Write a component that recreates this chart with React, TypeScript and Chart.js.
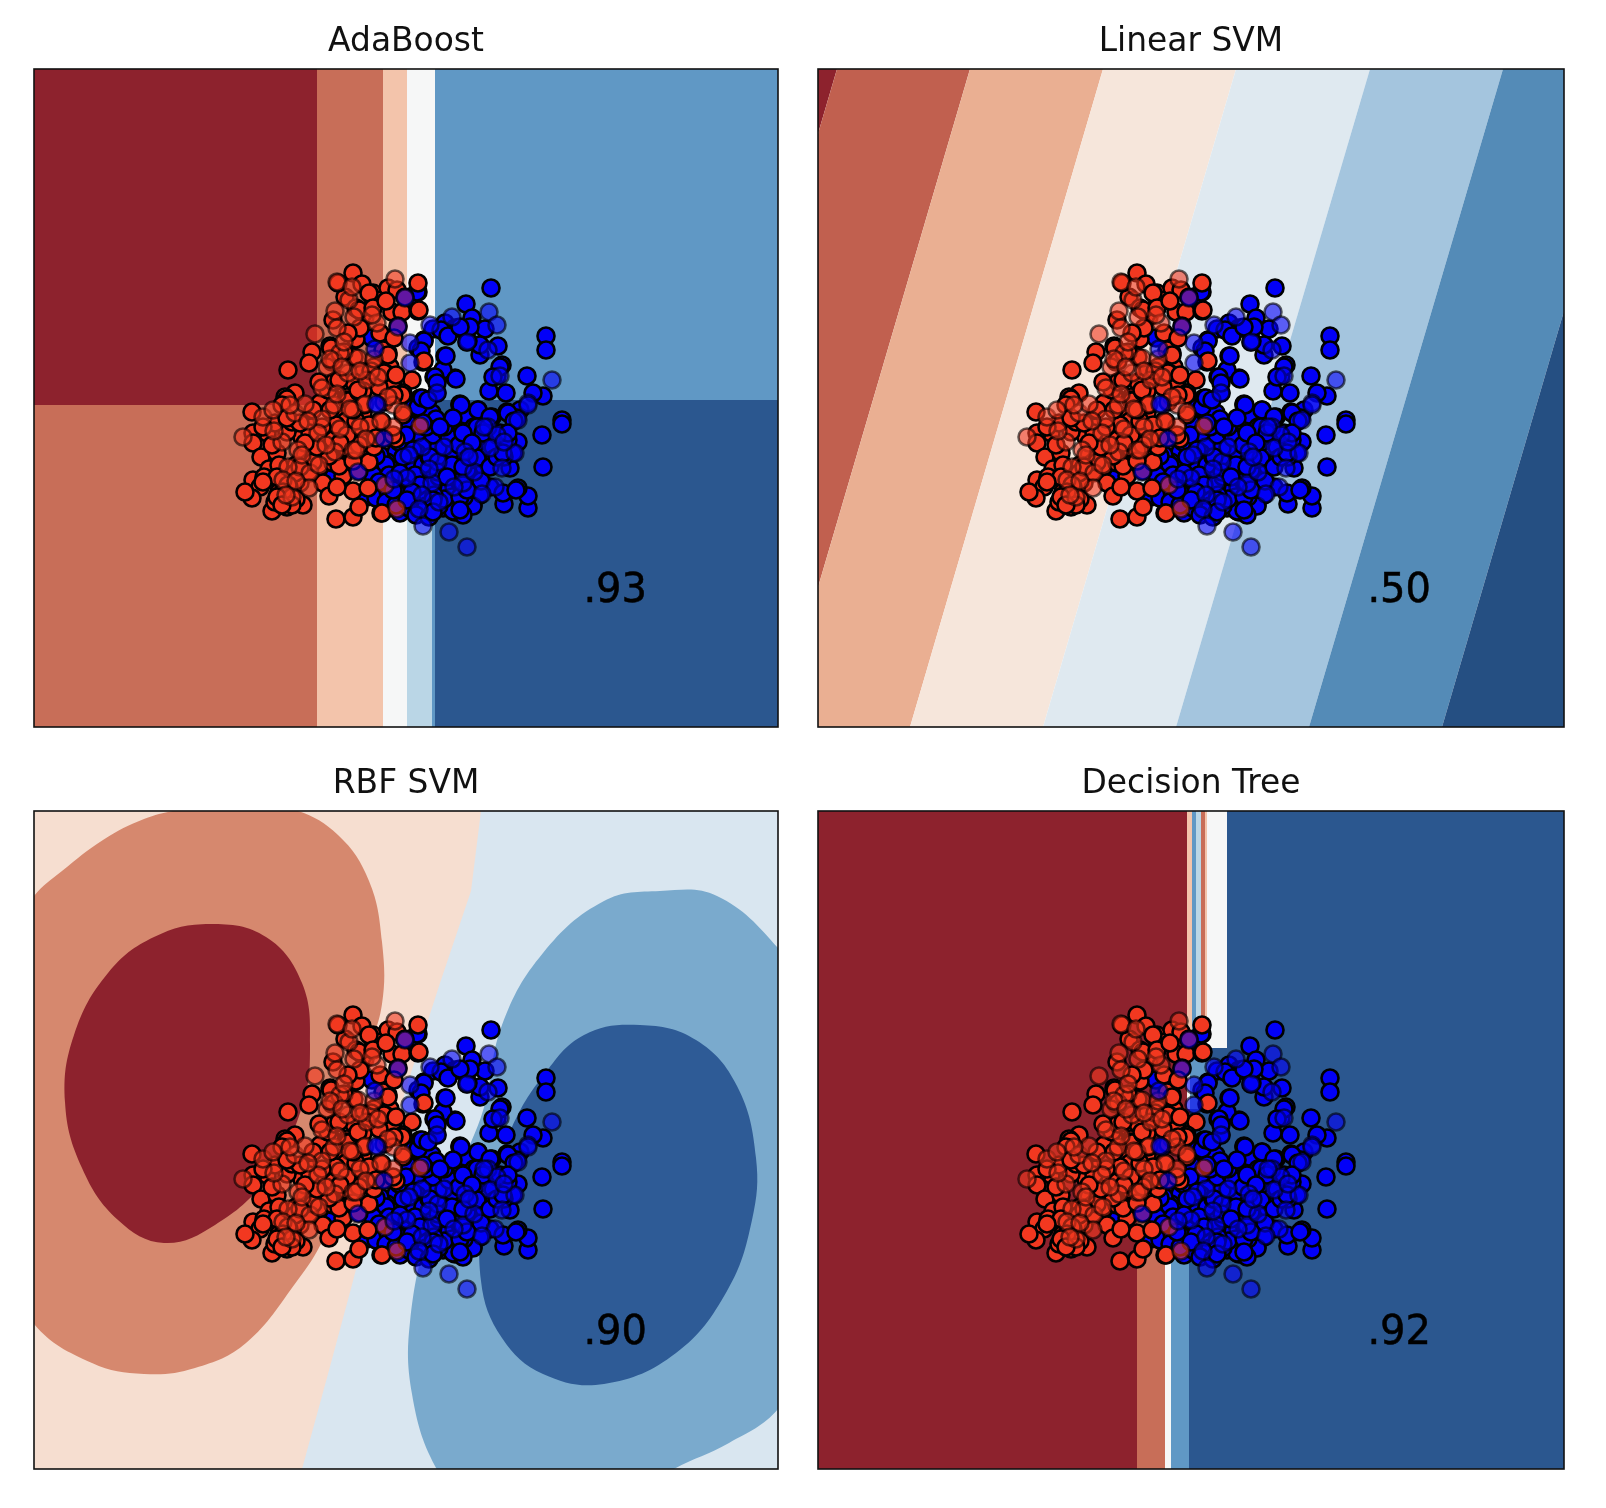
import React, { useEffect, useRef } from "react";
import { Chart, registerables } from "chart.js";

Chart.register(...registerables);

type Pair = number[];

const titles = ["AdaBoost", "Linear SVM", "RBF SVM", "Decision Tree"];
const scores = [".93", ".50", ".90", ".92"];

const blueTrain: Pair[] = [
  [457,439],[432,423],[438,409],[451,398],[464,381],[468,362],[446,372],[433,385],[411,371],[421,349],[400,350],[512,391],[512,377],[493,351],[455,336],[472,334],[509,331],[426,323],[444,317],[398,314],[386,329],[379,319],[384,435],[390,387],[384,379],[399,398],[411,404],[421,399],[413,392],[409,357],[403,334],[446,382],[473,315],[486,317],[499,334],[528,307],[458,310],[431,312],[483,309],[463,351],
  [528,303],[508,292],[509,260],[494,219],[494,231],[484,239],[470,223],[476,259],[449,260],[446,247],[439,222],[421,215],[419,245],[414,290],[426,322],[444,317],[473,287],[484,285],[434,295],[362,275],[376,304],[389,282],[406,265],[398,244],[373,249],[388,232],[366,232],[393,220],[411,237],[418,230],[433,257],[459,280],[479,274],[456,240],[446,232],[469,234],[429,274],[418,277],[404,279],[399,292],[363,260],[379,224],[353,265],[386,264],[374,264],[356,247],[393,255],[466,294],[456,310],[443,284],[409,219],[413,294],[423,250],[436,267],
  [336,269],[349,265],[376,302],[384,320],[378,254],[359,257],[329,259],[343,230],[356,235],[368,230],[376,222],[366,214],[296,249],[383,274],[383,294],[373,265],[346,272],[333,230],[383,240],[338,389],[374,425],[383,435],
  [434,386],[407,397],[424,399],[414,391],[390,386],[387,376],[412,371],[422,348],[401,350],[427,322],[388,329],[415,289],[435,295],[474,287],[474,314],[480,306],[450,260],[389,262],[352,262],[342,271],[339,252],[399,242],[429,242],[447,246],[439,221],[482,237],[429,212],[419,216],[369,231],[375,219],[392,221],[405,221],[342,229],[354,236],[405,250],[415,258],[395,270],[365,285],[372,292],[410,300],[425,282],[440,300],[402,308],[392,300],[355,252],[410,228],[400,232],[430,230],[385,248],[345,245],[352,225],[460,268],[470,270],[382,212],[395,210],[362,222],
  [379,277],[369,270],[396,270],[381,252],[366,254],[386,242],[404,255],[418,262],[429,260],[443,269],[456,260],[443,300],[429,294],[419,309],[389,304],[406,300],[378,235],[399,227],[426,230],[433,237],[463,270],[469,274],[474,294],[449,294],[438,284],[413,250],[373,227],[359,237],[399,215],[426,217],[403,344],[394,327],[466,360],[459,350],[436,400],[426,400]
];

const redTrain: Pair[] = [
  [319,454],[328,443],[339,434],[354,439],[358,415],[322,388],[254,357],[278,375],[275,364],[356,360],[378,347],[368,333],[311,430],[322,419],[338,420],[331,410],[326,399],[299,407],[296,381],[314,394],[354,374],[359,390],[368,415],[346,394],[349,377],[304,347],[313,330],[329,355],[351,354],[359,344],[333,344],[296,332],[261,334],[251,330],[363,437],[343,427],[384,444],[384,416],[389,365],[369,334],[304,444],[385,417],
  [218,315],[233,294],[219,294],[219,284],[227,270],[235,258],[219,247],[226,240],[218,229],[211,235],[238,216],[241,225],[269,222],[253,220],[253,328],[268,290],[243,274],[253,295],[241,304],[248,322],[286,324],[304,310],[313,304],[313,327],[296,287],[286,260],[266,244],[289,244],[295,231],[309,251],[319,236],[334,239],[302,208],[319,210],[325,220],[347,214],[329,314],[339,297],[346,306],[368,332],[326,287],[312,277],[326,279],[299,264],[271,272],[303,240],
  [305,309],[314,326],[294,337],[348,305],[348,214],[362,288],[390,366],[371,430],[364,401],[325,256],[350,289],[280,270],[262,262],[245,262],[230,250],[258,305],[278,300],[290,275],[320,300],[335,265],[340,280],[310,290],[300,345],[285,345],[340,360],[320,370],[310,375],[298,365],[345,340],[350,325],[325,335],[320,345],[310,312],[285,290],[275,255],[255,240],[245,235],[262,228],
  [335,434],[325,417],[339,419],[352,426],[360,389],[354,372],[350,354],[362,352],[329,336],[297,379],[300,366],[305,347],[324,337],[337,356],[330,322],[312,306],[322,306],[335,302],[299,287],[312,279],[325,282],[342,289],[359,292],[369,312],[360,332],[305,261],[295,271],[319,266],[302,302],
  [261,254],[243,250],[254,242],[249,235],[258,222],[279,265],[266,260],[283,280],[276,294],[288,300],[266,304],[253,309],[229,300],[279,317],[296,317],[319,317],[313,292],[306,284],[271,284],[238,282],[229,245],[243,230],[248,222]
];

const redTest: Pair[] = [
  [303,445],[361,448],[315,427],[301,416],[303,399],[281,393],[343,404],[306,374],[324,369],[293,360],[288,339],[314,354],[333,347],
  [209,290],[229,310],[239,317],[261,314],[271,323],[300,322],[331,323],[288,308],[284,294],[326,300],[248,285],[264,277],[301,275],[319,277],[254,260],[249,247],[276,254],[275,239],[258,230],[359,322],[369,315],[359,300],[351,242],[363,218],[386,301],[322,277],[347,306],
  [320,410],[310,385],[296,368],[326,356],[340,368],[303,333],[316,318],[306,298],[292,282],[274,306],[256,322],[240,296],[262,246],[285,262],[332,288],[354,330],[338,412],[318,440],[308,360],[344,350],[268,272],[252,232]
];

const blueTest: Pair[] = [
  [455,415],[463,402],[418,410],[396,402],[433,385],[454,377],[466,351],[518,347],[376,364],[376,384],[403,334],[494,324],[389,201],[415,195],[433,180],[484,307],[494,322],[454,300],[463,292],[431,275],[404,265],[388,280],[429,244],[461,240],[448,233],[468,259],[481,274],[456,279],[398,244],[373,249],[388,232],[341,378],[344,322],
  [371,429],[364,400],[324,255],[350,288],[342,323],
  [410,280],[395,258],[375,272],[420,240],[440,255],[405,225],[385,218],[450,300],[470,285],[360,248],[435,270]
];

const shades: Record<string, string> = {
  darkRed: "rgb(141,34,45)",
  red: "rgb(200,110,88)",
  peach: "rgb(243,196,171)",
  white: "rgb(246,247,247)",
  paleBlue: "rgb(186,214,230)",
  blue: "rgb(96,152,197)",
  darkBlue: "rgb(43,87,143)",
  lin1: "rgb(193,96,79)",
  lin2: "rgb(234,175,146)",
  lin3: "rgb(246,230,219)",
  lin4: "rgb(223,233,240)",
  lin5: "rgb(164,197,222)",
  lin6: "rgb(84,139,183)",
  lin7: "rgb(37,79,130)",
  rbfPeach: "rgb(246,222,208)",
  rbfRed: "rgb(214,136,110)",
  rbfPale: "rgb(217,230,240)",
  rbfBlue: "rgb(122,170,205)",
  rbfDark: "rgb(46,91,150)",
};

type Region = { shade: string; pts: Pair[]; curved?: boolean };
const box = (shade: string, x0: number, x1: number, y0: number, y1: number): Region => ({
  shade,
  pts: [[x0, y0], [x1, y0], [x1, y1], [x0, y1], [x0, y0]],
});

const adaRegions: Region[] = [
  box("darkRed", 0, 283, 322, 658),
  box("red", 283, 349, 322, 658),
  box("peach", 349, 373, 322, 658),
  box("white", 373, 401, 322, 658),
  box("blue", 401, 744, 327, 658),
  box("red", 0, 283, 0, 322),
  box("peach", 283, 349, 0, 322),
  box("white", 349, 373, 0, 322),
  box("paleBlue", 373, 398, 0, 322),
  box("blue", 398, 401, 0, 327),
  box("darkBlue", 401, 744, 0, 327),
];

const slant = (shade: string, t0: number, t1: number, b0: number, b1: number): Region => ({
  shade,
  pts: [[t0, 658], [t1, 658], [b1, 0], [b0, 0], [t0, 658]],
});

const linearRegions: Region[] = [
  slant("darkRed", -200, 19, -393, -174),
  slant("lin1", 19, 152, -174, -41),
  slant("lin2", 152, 285, -41, 92),
  slant("lin3", 285, 418, 92, 225),
  slant("lin4", 418, 552, 225, 358),
  slant("lin5", 552, 685, 358, 491),
  slant("lin6", 685, 817, 491, 624),
  slant("lin7", 817, 1100, 624, 907),
];

const rbfRegions: Region[] = [
  box("rbfPeach", 0, 744, 0, 658),
  { shade: "rbfPale", pts: [[447,658],[437,578],[406,486],[376,393],[345,290],[319,188],[294,95],[268,0],[744,0],[744,658],[447,658]] },
  { shade: "rbfRed", curved: true, pts: [[-54,496],[0,573],[28,598],[69,629],[110,650],[150,660],[202,666],[258,660],[304,634],[335,588],[348,527],[348,465],[330,403],[319,342],[309,280],[289,229],[263,188],[212,126],[161,101],[110,95],[58,106],[0,145],[-54,239],[-54,496],[0,573]] },
  { shade: "darkRed", curved: true, pts: [[120,532],[176,545],[232,532],[268,486],[276,424],[268,362],[232,290],[181,244],[130,226],[84,249],[48,301],[31,367],[40,434],[74,496],[120,532],[176,545],[232,532]] },
  { shade: "rbfBlue", curved: true, pts: [[570,568],[626,578],[683,573],[744,521],[775,470],[795,300],[775,120],[744,60],[695,26],[640,0],[590,-32],[500,-50],[430,-25],[401,3],[378,75],[376,147],[396,239],[447,352],[468,444],[509,516],[570,568],[626,578],[683,573]] },
  { shade: "rbfDark", curved: true, pts: [[550,434],[606,444],[662,429],[703,383],[722,311],[718,249],[693,178],[642,116],[570,85],[509,95],[468,131],[447,188],[452,270],[478,342],[509,393],[550,434],[606,444],[662,429]] },
];

const treeRegions: Region[] = [
  box("darkRed", 0, 369, 421, 658),
  box("peach", 369, 374, 421, 658),
  box("blue", 374, 378, 421, 658),
  box("paleBlue", 378, 383, 421, 658),
  box("red", 383, 387, 421, 658),
  box("peach", 387, 389, 421, 658),
  box("white", 389, 409, 421, 658),
  box("darkBlue", 409, 746, 421, 658),
  box("darkRed", 0, 369, 360, 421),
  box("white", 369, 372, 360, 421),
  box("blue", 372, 392, 360, 421),
  box("darkBlue", 392, 746, 360, 421),
  box("darkRed", 0, 372, 252, 360),
  box("darkBlue", 372, 746, 252, 360),
  box("darkRed", 0, 319, 0, 252),
  box("red", 319, 347, 0, 252),
  box("white", 347, 353, 0, 252),
  box("blue", 353, 371, 0, 252),
  box("darkBlue", 371, 746, 0, 252),
];

const panels = [
  { regions: adaRegions, left: 34, top: 69, width: 744 },
  { regions: linearRegions, left: 818, top: 69, width: 746 },
  { regions: rbfRegions, left: 34, top: 811, width: 744 },
  { regions: treeRegions, left: 818, top: 811, width: 746 },
];
const plotHeight = 658;
const marginLeft = 24;
const marginRight = 20;
const marginBottom = 20;
const marginTop = 65;

const frame = {
  id: "frame",
  afterDatasetsDraw(chart: any, _a: any, opts: any) {
    const { ctx, chartArea: c, scales } = chart;
    ctx.save();
    ctx.fillStyle = "#000";
    ctx.strokeStyle = "#000";
    ctx.lineWidth = 0.5;
    ctx.font = '40px "DejaVu Sans"';
    ctx.textAlign = "right";
    ctx.textBaseline = "alphabetic";
    const tx = scales.x.getPixelForValue(613);
    const ty = scales.y.getPixelForValue(125);
    ctx.fillText(opts.score, tx, ty);
    ctx.strokeText(opts.score, tx, ty);
    ctx.strokeStyle = "#111";
    ctx.lineWidth = 1.6;
    ctx.strokeRect(c.left, c.top, c.right - c.left, c.bottom - c.top);
    ctx.restore();
  },
};

const toXY = (pts: Pair[]) => pts.map(([x, y]) => ({ x, y }));

function Panel({ index }: { index: number }) {
  const ref = useRef<HTMLCanvasElement>(null);
  const p = panels[index];
  useEffect(() => {
    const marks = (pts: Pair[], bg: string, edge: string) => ({
      data: toXY(pts),
      showLine: false,
      pointRadius: 8.5,
      pointBorderWidth: 2.6,
      pointBackgroundColor: bg,
      pointBorderColor: edge,
      clip: false as const,
    });
    const layers: any[] = [
      ...p.regions.map((r) => ({
        data: toXY(r.pts),
        showLine: true,
        fill: "shape",
        pointRadius: 0,
        borderWidth: 0,
        backgroundColor: shades[r.shade],
        tension: r.curved ? 0.4 : 0,
        capBezierPoints: false,
      })),
      marks(blueTrain, "rgb(2,0,248)", "#000"),
      marks(redTrain, "rgb(242,56,32)", "#000"),
      marks(redTest, "rgba(242,56,32,0.6)", "rgba(0,0,0,0.6)"),
      marks(blueTest, "rgba(2,0,248,0.6)", "rgba(0,0,0,0.6)"),
    ];
    layers.forEach((d, i) => (d.order = layers.length - i));
    const chart = new Chart(ref.current!, {
      type: "scatter",
      data: { datasets: layers },
      plugins: [frame],
      options: {
        animation: false,
        responsive: false,
        events: [],
        layout: { padding: { left: marginLeft, right: marginRight, bottom: marginBottom, top: 0 } },
        scales: {
          x: { type: "linear", min: 0, max: p.width, display: false },
          y: { type: "linear", min: 0, max: plotHeight, display: false },
        },
        plugins: {
          legend: { display: false },
          tooltip: { enabled: false },
          filler: { propagate: false },
          title: {
            display: true,
            text: titles[index],
            color: "#111",
            font: { family: "DejaVu Sans", size: 32.9, weight: "normal" },
            padding: { top: 18.52, bottom: 7 },
          },
          frame: { score: scores[index] },
        } as any,
      },
    });
    return () => chart.destroy();
  }, []);
  return (
    <canvas
      ref={ref}
      width={p.width + marginLeft + marginRight}
      height={plotHeight + marginTop + marginBottom}
      style={{
        position: "absolute",
        left: p.left - marginLeft,
        top: p.top - marginTop,
        filter: "blur(0.6px)",
      }}
    />
  );
}

export default function App() {
  return (
    <div style={{ position: "absolute", left: 0, top: 0, width: 1606, height: 1508, background: "#fff", overflow: "hidden" }}>
      {panels.map((_, i) => (
        <Panel key={i} index={i} />
      ))}
    </div>
  );
}
